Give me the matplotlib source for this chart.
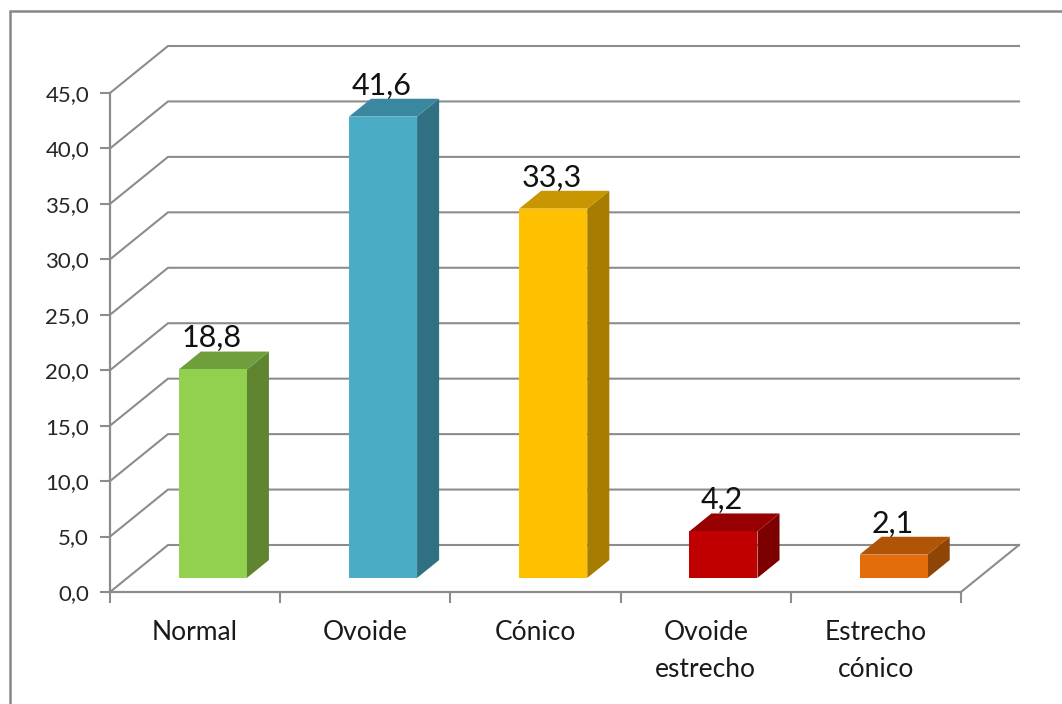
import matplotlib
matplotlib.use('Agg')
import matplotlib.pyplot as plt
from matplotlib.patches import Polygon
from matplotlib.lines import Line2D

plt.rcParams['font.family'] = ['Lato', 'DejaVu Sans']

categorias = ['Normal', 'Ovoide', 'Cónico', 'Ovoide\nestrecho', 'Estrecho\ncónico']
valores = [18.8, 41.6, 33.3, 4.2, 2.1]
etiquetas = ['18,8', '41,6', '33,3', '4,2', '2,1']
ticks_y = [0, 5, 10, 15, 20, 25, 30, 35, 40, 45]
ticks_y_txt = ['0,0', '5,0', '10,0', '15,0', '20,0', '25,0', '30,0', '35,0', '40,0', '45,0']

# Colores de cada barra: frente, tapa, lateral
frente = ['#92D050', '#4BACC6', '#FFC000', '#C00000', '#E46C0A']
tapa = ['#6F9E3C', '#3A87A0', '#C79600', '#960000', '#B05408']
lateral = ['#5F8530', '#2F7082', '#A67D00', '#7D0000', '#8E4506']

ANCHO, ALTO = 1062, 704
GRIS = '#8C8C8C'

fig = plt.figure(figsize=(ANCHO / 100, ALTO / 100), dpi=100)

# Los ejes ocupan el plano frontal del grafico
ax = fig.add_axes([110 / ANCHO, 1 - 592 / ALTO, 851 / ANCHO, 499 / ALTO])
ax.set_xlim(0, 5)
ax.set_ylim(0, 45)
ax.patch.set_visible(False)
for lado in ['top', 'right']:
    ax.spines[lado].set_visible(False)
for lado in ['left', 'bottom']:
    ax.spines[lado].set_color(GRIS)
    ax.spines[lado].set_linewidth(1.6)

# Desplazamiento de la profundidad en unidades de datos
DX = 58 / (851 / 5)
DY = 47 / (499 / 45)


def proyectar(x, y, z):
    return (x + z * DX, y + z * DY)


# Paredes: lineas de rejilla con la diagonal lateral
for t in ticks_y:
    p0 = proyectar(0, t, 0)
    p1 = proyectar(0, t, 1)
    p2 = proyectar(5, t, 1)
    ax.plot([p0[0], p1[0], p2[0]], [p0[1], p1[1], p2[1]], color=GRIS, lw=1.5,
            clip_on=False, zorder=1, solid_joinstyle='miter')

# Borde derecho del suelo
p0 = proyectar(5, 0, 0)
p1 = proyectar(5, 0, 1)
ax.plot([p0[0], p1[0]], [p0[1], p1[1]], color=GRIS, lw=1.5, clip_on=False, zorder=1)

# Barras en 3D
Z0, Z1 = 0.30, 0.68
ANCHO_BARRA = 0.40
for i, v in enumerate(valores):
    x0 = i + 0.302
    x1 = x0 + ANCHO_BARRA
    cara_frente = [proyectar(x0, 0, Z0), proyectar(x1, 0, Z0), proyectar(x1, v, Z0), proyectar(x0, v, Z0)]
    cara_tapa = [proyectar(x0, v, Z0), proyectar(x1, v, Z0), proyectar(x1, v, Z1), proyectar(x0, v, Z1)]
    cara_lateral = [proyectar(x1, 0, Z0), proyectar(x1, 0, Z1), proyectar(x1, v, Z1), proyectar(x1, v, Z0)]
    ax.add_patch(Polygon(cara_lateral, closed=True, fc=lateral[i], ec='none', clip_on=False, zorder=3))
    ax.add_patch(Polygon(cara_tapa, closed=True, fc=tapa[i], ec='none', clip_on=False, zorder=3))
    ax.add_patch(Polygon(cara_frente, closed=True, fc=frente[i], ec='none', clip_on=False, zorder=4))

    # Etiqueta de valor sobre la barra
    xt = proyectar((x0 + x1) / 2, v, Z0)[0]
    yt = proyectar(x0, v, Z1)[1]
    ax.annotate(etiquetas[i], (xt, yt), xytext=(-1, -0.5), textcoords='offset points',
                ha='center', va='bottom', fontsize=22, color='#111111', zorder=5,
                annotation_clip=False)

# Ejes
ax.set_yticks(ticks_y)
ax.set_yticklabels(ticks_y_txt)
ax.set_xticks(range(6))
ax.set_xticklabels([])
ax.tick_params(axis='y', direction='out', length=7, width=1.5, color=GRIS, labelsize=16,
               labelcolor='#262626', pad=8)
ax.tick_params(axis='x', direction='out', length=8, width=1.5, color=GRIS)

# Nombres de categoria centrados en cada tramo
for i, c in enumerate(categorias):
    ax.annotate(c, (i + 0.5, 0), xytext=(0, -20), textcoords='offset points', ha='center', va='top',
                fontsize=19, color='#1A1A1A', linespacing=1.62, annotation_clip=False)

# Marco exterior, abierto por la derecha y por abajo
fig.add_artist(Line2D([9.5 / ANCHO, 9.5 / ANCHO, 1], [0, 1 - 10.5 / ALTO, 1 - 10.5 / ALTO],
                      color='#868686', lw=1.8, transform=fig.transFigure, solid_joinstyle='miter'))

fig.savefig('out.png', dpi=100, facecolor='white')
